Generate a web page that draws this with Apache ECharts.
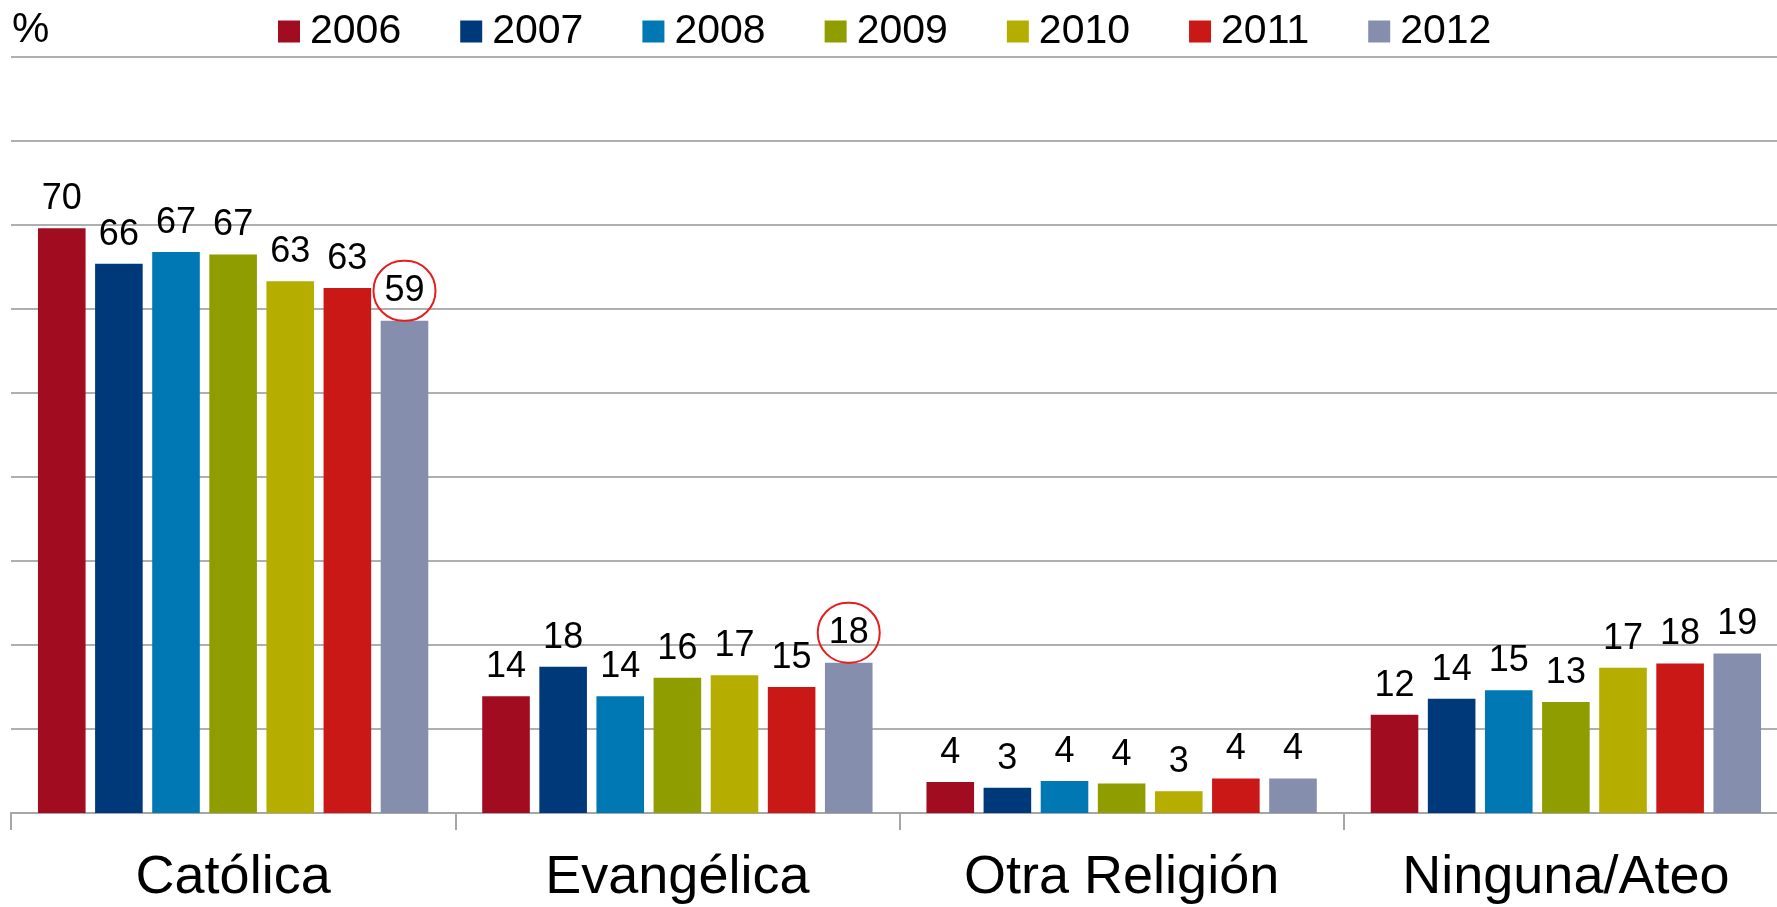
<!DOCTYPE html>
<html lang="es">
<head>
    <meta charset="UTF-8">
    <title>Religión</title>
    <script src="https://cdn.jsdelivr.net/npm/echarts@6/dist/echarts.min.js"></script>
    <style>
        html, body { margin: 0; padding: 0; background: #fff; }
        #chart { width: 1777px; height: 907px; }
    </style>
</head>
<body>
<div id="chart"></div>
<script>
    // categorías y años
    const categories = ['Católica', 'Evangélica', 'Otra Religión', 'Ninguna/Ateo'];
    const years = ['2006', '2007', '2008', '2009', '2010', '2011', '2012'];
    const colors = ['#A10C20', '#00397A', '#0078B4', '#8F9D00', '#B5AD00', '#CA1817', '#858FAD'];

    // alturas de las barras
    const v2006 = [69.6, 13.9, 3.7, 11.7];
    const v2007 = [65.4, 17.4, 3.0, 13.6];
    const v2008 = [66.8, 13.9, 3.8, 14.6];
    const v2009 = [66.5, 16.1, 3.5, 13.2];
    const v2010 = [63.3, 16.4, 2.6, 17.3];
    const v2011 = [62.5, 15.0, 4.1, 17.8];
    const v2012 = [58.6, 17.9, 4.1, 19.0];

    // etiquetas que muestra el gráfico
    const l2006 = [70, 14, 4, 12];
    const l2007 = [66, 18, 3, 14];
    const l2008 = [67, 14, 4, 15];
    const l2009 = [67, 16, 4, 13];
    const l2010 = [63, 17, 3, 17];
    const l2011 = [63, 15, 4, 18];
    const l2012 = [59, 18, 4, 19];

    // etiquetas rodeadas con círculo rojo (serie 2012)
    const circled2012 = [0, 1];

    const values = [v2006, v2007, v2008, v2009, v2010, v2011, v2012];
    const labels = [l2006, l2007, l2008, l2009, l2010, l2011, l2012];

    const font = '"Liberation Sans", Arial, sans-serif';

    let chart = echarts.init(document.getElementById('chart'));

    let series = years.map((y, i) => {
        let data = values[i].map((val, j) => {
            let item = {value: val};
            if (i === 6 && circled2012.indexOf(j) >= 0) {
                item.label = {
                    borderColor: '#E81C1C',
                    borderWidth: 2,
                    borderRadius: 31,
                    padding: [12, 11],
                    distance: 0
                };
            }
            return item;
        });
        return {
            name: y,
            type: 'bar',
            barWidth: 47.6,
            barGap: '20%',
            itemStyle: {color: colors[i]},
            label: {
                show: true,
                position: 'top',
                distance: 11,
                fontSize: 36,
                lineHeight: 36,
                fontFamily: font,
                color: '#000',
                formatter: p => labels[i][p.dataIndex]
            },
            data: data
        };
    });

    let option = {
        animation: false,
        graphic: [{
            type: 'text',
            left: 12,
            top: 9,
            style: {text: '%', font: '42px "Liberation Sans", Arial, sans-serif', fill: '#000'}
        }],
        legend: {
            data: years,
            left: 278,
            top: 11,
            padding: 0,
            icon: 'rect',
            itemWidth: 22,
            itemHeight: 22,
            itemGap: 59,
            textStyle: {fontSize: 41, color: '#000', fontFamily: font, padding: [0, 0, 0, 5]}
        },
        grid: {left: 11, width: 1777, top: 57, bottom: 94, outerBoundsMode: 'none'},
        xAxis: {
            type: 'category',
            data: categories,
            axisLine: {lineStyle: {color: '#a6a6a6', width: 2}},
            axisTick: {show: true, length: 17, lineStyle: {color: '#a6a6a6', width: 2}},
            axisLabel: {fontSize: 54, color: '#000', fontFamily: font, margin: 38}
        },
        yAxis: {
            type: 'value',
            min: 0,
            max: 90,
            interval: 10,
            axisLabel: {show: false},
            axisLine: {show: false},
            axisTick: {show: false},
            splitLine: {lineStyle: {color: '#959595', width: 1.5}}
        },
        series: series
    };

    chart.setOption(option);
</script>
</body>
</html>
